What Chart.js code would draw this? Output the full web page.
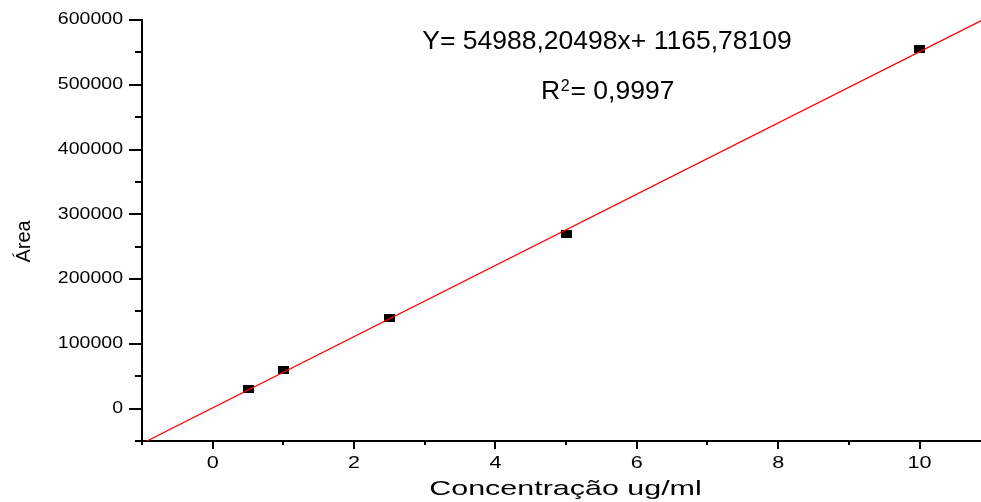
<!DOCTYPE html>
<html>
<head>
<meta charset="utf-8">
<script src="https://cdn.jsdelivr.net/npm/chart.js@4.4.0/dist/chart.umd.min.js"></script>
<style>
  html, body { margin: 0; padding: 0; background: #fff; }
</style>
</head>
<body>
<canvas id="chart" width="981" height="502"></canvas>
<script>
// data
const concentrations = [0.5, 1, 2.5, 5, 10];
const areas = [31000, 60000, 140000, 270000, 555000];
// fitted line, as printed on the chart
const fitSlope = 54988.20498;
const fitIntercept = 1165.78109;
const fitRange = [-1, 10.9];
const equationText = 'Y= 54988,20498x+ 1165,78109';
const r2Text = ['R', '2', '= 0,9997'];
const xTitle = 'Concentração ug/ml';
const yTitle = 'Área';

const family = 'Arial, "Liberation Sans", sans-serif';

// black rectangle marker
const marker = document.createElement('canvas');
marker.width = 11;
marker.height = 8;
const mctx = marker.getContext('2d');
mctx.fillStyle = '#000';
mctx.fillRect(0, 0, 11, 8);

// the original picture uses horizontally stretched text; fake it per string
function stretched(scale, name, sx, dx, dy) {
    const orig = scale[name];
    scale[name] = function(...args) {
        const ctx = this.ctx;
        const ft = ctx.fillText;
        ctx.fillText = function(text, x, y) {
            this.save();
            this.translate(x + dx, y + dy);
            this.scale(sx, 1);
            ft.call(this, text, 0, 0);
            this.restore();
        };
        orig.apply(this, args);
        delete ctx.fillText;
    };
}

const textTweaks = {
    id: 'textTweaks',
    afterUpdate(chart) {
        const { x, y } = chart.scales;
        if (x._tweaked) return;
        x._tweaked = true;
        stretched(x, 'drawTitle', 1.45, 4, 0);
        stretched(x, 'drawLabels', 1.35, 0, 0);
        stretched(y, 'drawLabels', 1.22, 0, 0);
        stretched(y, 'drawTitle', 1, -11, 0); // rotated frame: moves it down
    }
};

// --- major / minor tick marks ---
const axisTicks = {
    id: 'axisTicks',
    afterDraw(chart) {
        const { ctx, chartArea, scales: { x, y } } = chart;
        ctx.save();
        ctx.strokeStyle = '#000';
        ctx.lineWidth = 2;
        ctx.beginPath();
        x.ticks.forEach(t => {
            const px = Math.round(x.getPixelForValue(t.value));
            const len = t.value % 2 === 0 ? 8 : 4;
            ctx.moveTo(px, chartArea.bottom);
            ctx.lineTo(px, chartArea.bottom + len);
        });
        y.ticks.forEach(t => {
            const py = Math.round(y.getPixelForValue(t.value));
            const len = t.value % 100000 === 0 ? 13 : 7;
            ctx.moveTo(chartArea.left - len, py);
            ctx.lineTo(chartArea.left, py);
        });
        ctx.stroke();
        ctx.restore();
    }
};

// --- equation text ---
const equation = {
    id: 'equation',
    afterDraw(chart) {
        const ctx = chart.ctx;
        ctx.save();
        ctx.fillStyle = '#000';
        ctx.textBaseline = 'alphabetic';
        ctx.textAlign = 'center';
        ctx.font = '26.5px ' + family;
        ctx.fillText(equationText, 607, 49);

        ctx.textAlign = 'left';
        let px = 541;
        ctx.fillText(r2Text[0], px, 99);
        px += ctx.measureText(r2Text[0]).width + 0.5;
        ctx.font = '16px ' + family;
        ctx.fillText(r2Text[1], px, 91);
        px += ctx.measureText(r2Text[1]).width + 1;
        ctx.font = '26.5px ' + family;
        ctx.fillText(r2Text[2], px, 99);
        ctx.restore();
    }
};

new Chart(document.getElementById('chart'), {
    type: 'scatter',
    data: {
        datasets: [
            {
                label: 'fit',
                data: fitRange.map(x => ({ x: x, y: fitSlope * x + fitIntercept })),
                showLine: true,
                borderColor: '#ff0000',
                borderWidth: 1.2,
                pointRadius: 0
            },
            {
                label: 'Área',
                data: concentrations.map((c, i) => ({ x: c, y: areas[i] })),
                pointStyle: marker,
                pointRadius: 5,
                backgroundColor: '#000',
                borderColor: '#000'
            }
        ]
    },
    options: {
        responsive: false,
        animation: false,
        devicePixelRatio: 1,
        layout: { autoPadding: false, padding: { top: 20, right: 0, left: 0, bottom: 0 } },
        plugins: { legend: { display: false }, tooltip: { enabled: false } },
        scales: {
            x: {
                type: 'linear',
                position: 'bottom',
                min: -1,
                max: 10.87,
                afterFit: s => { s.height = 61; s.paddingLeft = 0; s.paddingRight = 0; },
                grid: { display: false, tickLength: 8 },
                border: { display: true, color: '#000', width: 2 },
                ticks: {
                    stepSize: 1,
                    includeBounds: false,
                    autoSkip: false,
                    maxRotation: 0,
                    padding: 5,
                    color: '#000',
                    font: { family: family, size: 16 },
                    callback: v => (v % 2 === 0 ? String(v) : '')
                },
                title: {
                    display: true,
                    text: xTitle,
                    color: '#000',
                    font: { family: family, size: 21 },
                    padding: 0
                }
            },
            y: {
                type: 'linear',
                min: -50000,
                max: 600000,
                afterFit: s => { s.width = 142; s.paddingTop = 0; s.paddingBottom = 0; },
                grid: { display: false, tickLength: 13 },
                border: { display: true, color: '#000', width: 2 },
                ticks: {
                    stepSize: 50000,
                    autoSkip: false,
                    padding: 6,
                    color: '#000',
                    font: { family: family, size: 16 },
                    callback: v => (v % 100000 === 0 ? String(v) : '')
                },
                title: {
                    display: true,
                    text: yTitle,
                    color: '#000',
                    font: { family: family, size: 20 },
                    padding: { top: 12, bottom: 0 }
                }
            }
        }
    },
    plugins: [textTweaks, axisTicks, equation]
});
</script>
</body>
</html>
